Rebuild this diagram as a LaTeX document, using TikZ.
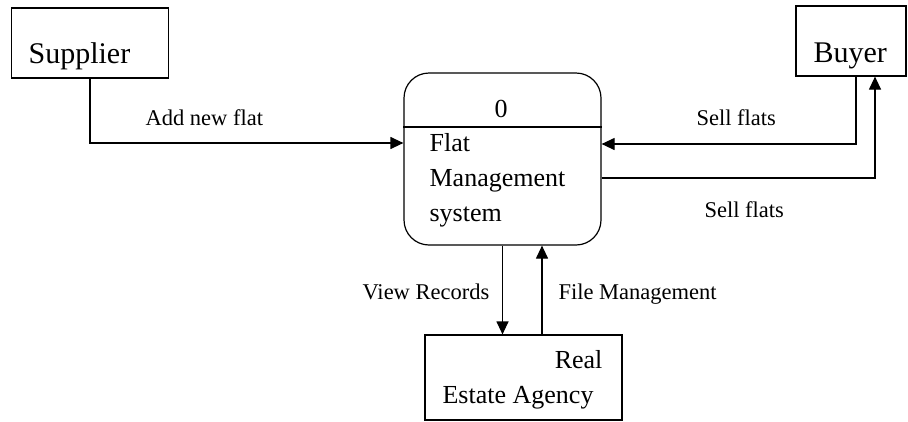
\documentclass[tikz,border=0pt]{standalone}
\usepackage{fontspec}
\setmainfont{Liberation Serif}
\usetikzlibrary{arrows.meta, positioning}

\begin{document}
\begin{tikzpicture}[x=1pt, y=-1pt, line width=1.2pt,
    ent/.style={draw, inner sep=0pt},
    flow/.style={-{Triangle[length=13pt, width=12pt]}},
    lbl/.style={font=\fontsize{22.5}{27}\selectfont, inner sep=0pt},
    big/.style={font=\fontsize{30}{36}\selectfont, inner sep=0pt},
    mid/.style={font=\fontsize{26}{32}\selectfont, inner sep=0pt}]
    \useasboundingbox (0,0) rectangle (908,421);

    % external entities
    \node[ent, minimum width=157pt, minimum height=70pt] (sup) at (90,43) {};
    \node[big, anchor=base west] (sup-t) at (28,63) {Supplier};
    \node[ent, minimum width=110pt, minimum height=70pt] (buyer) at (851,41) {};
    \node[big, anchor=base west] (buyer-t) at (813,62) {Buyer};
    \node[ent, minimum width=197pt, minimum height=85pt] (agency) at (523.5,377.5) {};
    \node[mid, anchor=base east] (agency-t1) at (603,368) {Real};
    \node[mid, anchor=base west] (agency-t2) at (442,403) {Estate Agency};

    % process
    \node[draw, rounded corners=25pt, minimum width=197pt, minimum height=172pt] (proc) at (502.5,159) {};
    \draw (proc.west |- 0,127) -- (proc.east |- 0,127);
    \node[mid, anchor=base] (proc-id) at (501,117) {0};
    \foreach \t [count=\i] in {Flat, Management, system}
        \node[mid, anchor=base west] (proc-t\i) at (429,116+35*\i) {\t};

    % data flows
    \draw[flow] (sup.south) |- (proc.west |- 0,143);
    \draw[flow] ([xshift=5pt]buyer.south) |- (proc.east |- 0,144);
    \draw[flow] (proc.east |- 0,178) -| ([xshift=24pt]buyer.south);
    \draw[flow] (proc.south) -- (proc.south |- agency.north);
    \draw[flow] ([xshift=18.5pt]agency.north) -- ([xshift=18.5pt]agency.north |- proc.south);

    % flow labels
    \node[lbl, anchor=base west] (l-add) at (145,125) {Add new flat};
    \node[lbl, anchor=base west] (l-sell1) at (696,125) {Sell flats};
    \node[lbl, anchor=base west] (l-sell2) at (704,217) {Sell flats};
    \node[lbl, anchor=base west] (l-view) at (362,299) {View Records};
    \node[lbl, anchor=base west] (l-file) at (558,299) {File Management};
\end{tikzpicture}
\end{document}
